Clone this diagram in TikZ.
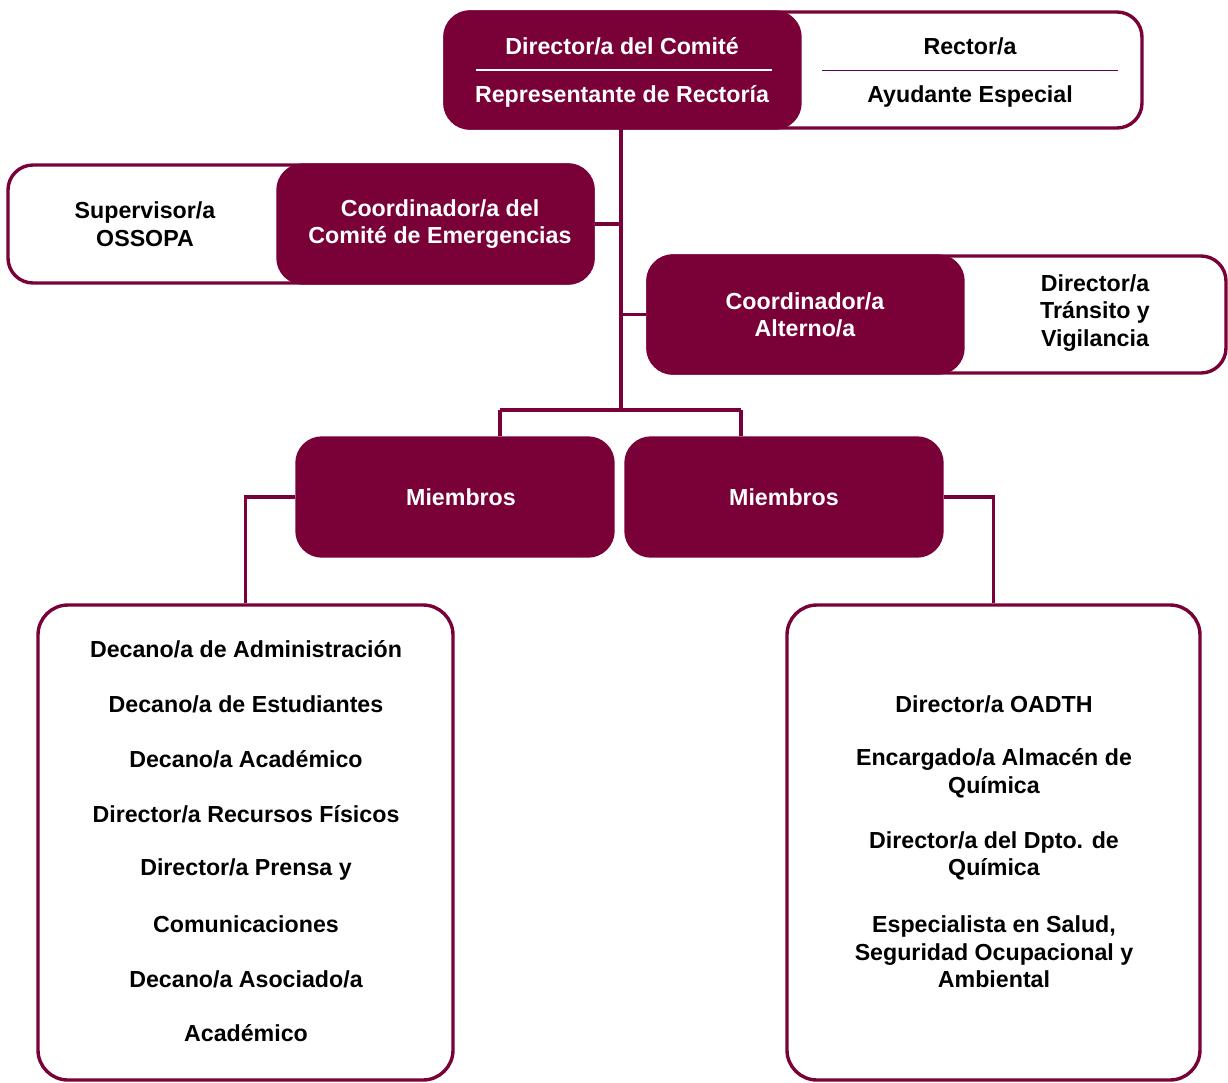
\documentclass[tikz,border=0pt]{standalone}
\usepackage{fontspec}
\setmainfont{Liberation Sans}
\definecolor{maroon}{RGB}{122,0,56}
\begin{document}
\begin{tikzpicture}[x=0.5pt,y=-0.5pt,
  every node/.style={font=\fontsize{11.6}{13.8}\selectfont\bfseries, align=center, inner sep=0pt},
  outerbox/.style={draw=maroon, line width=1.7pt, fill=white, rounded corners=12.5pt},
  darkbox/.style={fill=maroon, draw=maroon, line width=1.7pt, rounded corners=12.5pt, text=white},
  listbox/.style={draw=maroon, line width=1.7pt, fill=white, rounded corners=15pt},
  conn/.style={draw=maroon, line width=1.6pt},
  lbl/.style={text=black}]
\useasboundingbox (0,0) rectangle (1228,1083);
\fill[white] (0,0) rectangle (1228,1083);

% top
\node[outerbox, minimum width=348.5pt, minimum height=58pt] (topO) at (793.5,70) {};
\node[darkbox, minimum width=177.5pt, minimum height=58pt] (topM) at (622.5,70) {};
\node[text=white] (t1) at (622,46) {Director/a del Comité};
\node[text=white] (t2) at (622,96) {Representante de Rectoría};
\node[lbl] (t3) at (970,46) {Rector/a};
\node[lbl] (t4) at (970,96) {Ayudante Especial};
\coordinate (sepLa) at (476,70); \coordinate (sepLb) at (772,70);
\coordinate (sepRa) at (822,70); \coordinate (sepRb) at (1118,70);
\draw[white, line width=0.6pt] (sepLa) -- (sepLb);
\draw[maroon!80!blue, line width=0.5pt] (sepRa) -- (sepRb);

% coordinador
\node[outerbox, minimum width=292.5pt, minimum height=59pt] (coO) at (300.5,224) {};
\node[darkbox, minimum width=157.5pt, minimum height=59pt] (coM) at (435.5,224) {};
\node[text=white] (c1) at (440,224) {Coordinador/a del\\Comité de Emergencias};
\node[lbl] (c2) at (145,224) {Supervisor/a\\OSSOPA};

% alterno
\node[outerbox, minimum width=289pt, minimum height=58.5pt] (alO) at (937,314.5) {};
\node[darkbox, minimum width=157.5pt, minimum height=58.5pt] (alM) at (805.5,314.5) {};
\node[text=white] (a1) at (805,315) {Coordinador/a\\Alterno/a};
\node[lbl] (a2) at (1095,313) {Director/a\\Tránsito y\\Vigilancia};

% miembros
\node[darkbox, minimum width=158pt, minimum height=59pt] (memL) at (455,497) {};
\node[darkbox, minimum width=158pt, minimum height=59pt] (memR) at (784,497) {};
\node[text=white] (m1) at (461,497) {Miembros};
\node[text=white] (m2) at (784,497) {Miembros};

% bottom boxes
\node[listbox, minimum width=207.5pt, minimum height=237.5pt] (botL) at (245.5,842.5) {};
\node[listbox, minimum width=206.5pt, minimum height=237.5pt] (botR) at (993.5,842.5) {};

\node[lbl] (l1) at (246,649) {Decano/a de Administración};
\node[lbl] (l2) at (246,704) {Decano/a de Estudiantes};
\node[lbl] (l3) at (246,759) {Decano/a Académico};
\node[lbl] (l4) at (246,814) {Director/a Recursos Físicos};
\node[lbl] (l5) at (246,869) {Director/a Prensa y};
\node[lbl] (l6) at (246,924) {Comunicaciones};
\node[lbl] (l7) at (246,979) {Decano/a Asociado/a};
\node[lbl] (l8) at (246,1033) {Académico};

\node[lbl] (r1) at (994,704) {Director/a OADTH};
\node[lbl] (r2) at (994,773) {Encargado/a Almacén de\\Química};
\node[lbl] (r3) at (994,856) {Director/a del Dpto. de\\Química};
\node[lbl] (r4) at (994,952) {Especialista en Salud,\\Seguridad Ocupacional y\\Ambiental};

% connectors
\coordinate (trunkTop) at (621,128);
\coordinate (bus) at (621,410);
\coordinate (busL) at (500,410);
\coordinate (busR) at (741,410);
\draw[conn] (trunkTop) -- (bus);
\draw[conn] (coM.east) -- (coM.east -| bus);
\draw[conn] (alM.west) -- (alM.west -| bus);
\draw[conn] (busL) -- (busR);
\draw[conn] (busL) -- (busL |- memL.north);
\draw[conn] (busR) -- (busR |- memR.north);
\draw[conn] (memL.west) -| (botL.north);
\draw[conn] (memR.east) -| (botR.north);
\end{tikzpicture}
\end{document}
